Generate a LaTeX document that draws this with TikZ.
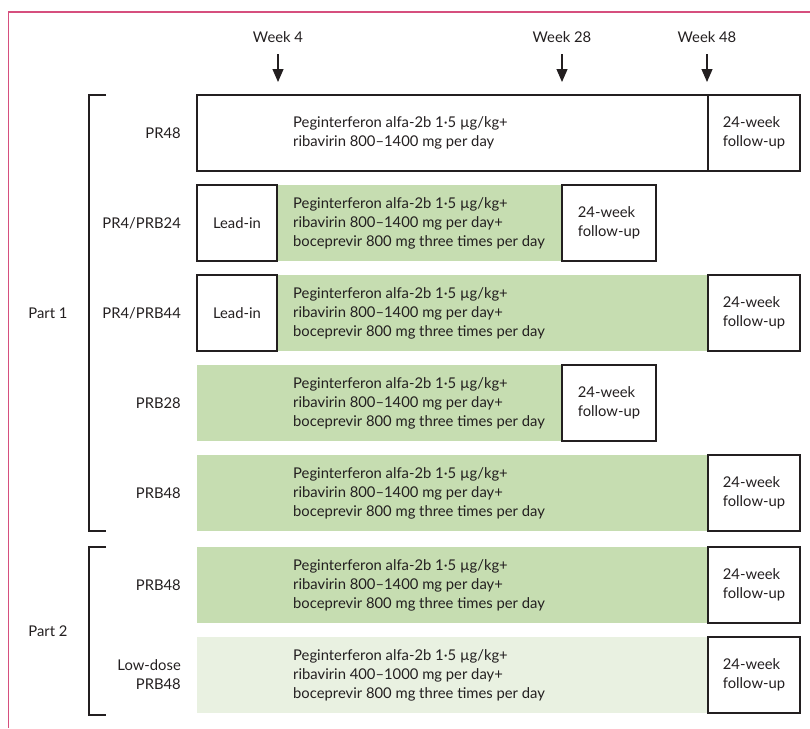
\documentclass[tikz,border=0pt]{standalone}
\usepackage{fontspec}
\setmainfont{Lato}
\usetikzlibrary{arrows.meta}
\definecolor{framepink}{HTML}{D64F7E}
\definecolor{armgreen}{HTML}{C6DDB1}
\definecolor{armpale}{HTML}{E9F1E1}
\definecolor{inkgray}{HTML}{231F20}
\begin{document}
\begin{tikzpicture}[x=1pt, y=-1pt, inkgray, font=\fontsize{14.8}{19}\selectfont,
		box/.style={draw=inkgray, line width=1.1pt, fill=white, anchor=north west, minimum height=76pt, inner sep=0pt, outer sep=0pt, align=left},
		rx/.style={fill=armgreen, anchor=north west, minimum height=76pt, inner sep=0pt, outer sep=0pt},
		drug/.style={anchor=west, align=left, inner sep=0pt},
		arm/.style={anchor=east, align=right, inner sep=0pt},
		wk/.style={-{Triangle[width=11pt, length=13pt]}, line width=1.2pt, shorten <=8pt, shorten >=13pt},
		brk/.style={line width=1.1pt}]
		\useasboundingbox (0,0) rectangle (810,728);
		\draw[framepink, line width=1.2pt] (8.5,728) -- (8.5,12) -- (810,12);
		% PR48
		\node[box, minimum width=511pt] (pr48) at (197,95) {};
		\node[box, minimum width=92pt] (pr48f) at (708,95) {24-week\\follow-up};
		\node[drug] (pr48t) at (293,133) {Peginterferon alfa-2b 1·5 µg/kg+\\ribavirin 800–1400 mg per day};
		\node[arm] (pr48l) at (181,133) {PR48};
		% PR4/PRB24
		\node[rx, minimum width=285pt] (prb24g) at (277,185) {};
		\node[box, minimum width=80pt, align=center] (prb24a) at (197,185) {Lead-in};
		\node[box, minimum width=94pt] (prb24f) at (562,185) {24-week\\follow-up};
		\node[drug] (prb24t) at (293,223) {Peginterferon alfa-2b 1·5 µg/kg+\\ribavirin 800–1400 mg per day+\\boceprevir 800 mg three times per day};
		\node[arm] (prb24l) at (181,223) {PR4/PRB24};
		% PR4/PRB44
		\node[rx, minimum width=431pt] (prb44g) at (277,275) {};
		\node[box, minimum width=80pt, align=center] (prb44a) at (197,275) {Lead-in};
		\node[box, minimum width=92pt] (prb44f) at (708,275) {24-week\\follow-up};
		\node[drug] (prb44t) at (293,313) {Peginterferon alfa-2b 1·5 µg/kg+\\ribavirin 800–1400 mg per day+\\boceprevir 800 mg three times per day};
		\node[arm] (prb44l) at (181,313) {PR4/PRB44};
		% PRB28
		\node[rx, minimum width=365pt] (prb28g) at (197,365) {};
		\node[box, minimum width=94pt] (prb28f) at (562,365) {24-week\\follow-up};
		\node[drug] (prb28t) at (293,403) {Peginterferon alfa-2b 1·5 µg/kg+\\ribavirin 800–1400 mg per day+\\boceprevir 800 mg three times per day};
		\node[arm] (prb28l) at (181,403) {PRB28};
		% PRB48 (part 1)
		\node[rx, minimum width=511pt] (prb48g) at (197,455) {};
		\node[box, minimum width=92pt] (prb48f) at (708,455) {24-week\\follow-up};
		\node[drug] (prb48t) at (293,493) {Peginterferon alfa-2b 1·5 µg/kg+\\ribavirin 800–1400 mg per day+\\boceprevir 800 mg three times per day};
		\node[arm] (prb48l) at (181,493) {PRB48};
		% PRB48 (part 2)
		\node[rx, minimum width=511pt] (hdg) at (197,547) {};
		\node[box, minimum width=92pt] (hdf) at (708,547) {24-week\\follow-up};
		\node[drug] (hdt) at (293,585) {Peginterferon alfa-2b 1·5 µg/kg+\\ribavirin 800–1400 mg per day+\\boceprevir 800 mg three times per day};
		\node[arm] (hdl) at (181,585) {PRB48};
		% low-dose PRB48
		\node[rx, fill=armpale, minimum width=511pt] (ldg) at (197,637) {};
		\node[box, minimum width=92pt] (ldf) at (708,637) {24-week\\follow-up};
		\node[drug] (ldt) at (293,675) {Peginterferon alfa-2b 1·5 µg/kg+\\ribavirin 400–1000 mg per day+\\boceprevir 800 mg three times per day};
		\node[arm] (ldl) at (181,675) {Low-dose\\PRB48};
		% weeks
		\node (w4) at (278,37) {Week 4};
		\node (w28) at (562,37) {Week 28};
		\node (w48) at (707,37) {Week 48};
		\draw[wk] (w4.south) -- (w4.south |- pr48.north);
		\draw[wk] (w28.south) -- (w28.south |- pr48.north);
		\draw[wk] (w48.south) -- (w48.south |- pr48.north);
		% parts
		\draw[brk] (106,95) -- (89,95) -- (89,531) -- (106,531);
		\draw[brk] (106,547) -- (89,547) -- (89,715) -- (106,715);
		\node (part1) at (48,313) {Part 1};
		\node (part2) at (48,631) {Part 2};
	\end{tikzpicture}
\end{document}
